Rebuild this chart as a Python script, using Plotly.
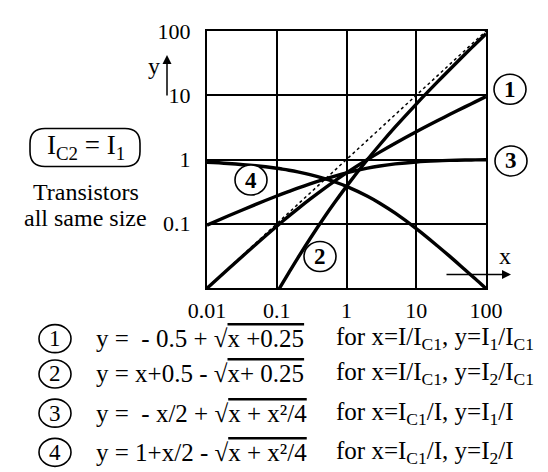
import plotly.graph_objects as go

# ---------------- data ----------------
x_vals = [0.01, 0.02, 0.05, 0.1, 0.12, 0.15, 0.2, 0.3, 0.5, 0.7, 1, 2, 3, 5, 10, 20, 30, 50, 70, 100]
curve1_y = [0.0099, 0.0196, 0.0477, 0.0916, 0.1083, 0.1325, 0.1708, 0.2416, 0.3660, 0.4747,
            0.6180, 1.000, 1.303, 1.791, 2.702, 4.000, 5.000, 6.589, 7.882, 9.512]
curve3_y = [0.0951, 0.1318, 0.2000, 0.2702, 0.2916, 0.3195, 0.3583, 0.4179, 0.5000, 0.5569,
            0.6180, 0.7321, 0.7913, 0.8541, 0.9161, 0.9545, 0.9687, 0.9808, 0.9861, 0.9902]
curve4_y = [0.9049, 0.8682, 0.8000, 0.7298, 0.7084, 0.6805, 0.6417, 0.5821, 0.5000, 0.4431,
            0.3820, 0.2679, 0.2087, 0.1459, 0.0839, 0.0455, 0.0313, 0.0192, 0.0139, 0.0098]
curve2_x = [0.1, 0.12, 0.15, 0.2, 0.3, 0.5, 0.7, 1, 2, 3, 5, 10, 20, 30, 50, 70, 100]
curve2_y = [0.0084, 0.0117, 0.0175, 0.0292, 0.0584, 0.1340, 0.2253, 0.3820, 1.000, 1.697,
            3.209, 7.298, 16.00, 25.00, 43.41, 62.12, 90.49]
diag_x = [0.01, 100]
diag_y = [0.01, 100]

x_ticks = [0.01, 0.1, 1, 10, 100]
x_tick_labels = ["0.01", "0.1", "1", "10", "100"]
y_ticks = [0.1, 1, 10, 100]
y_tick_labels = ["0.1", "1", "10", "100"]


def sub(t):
    return "<sub>%s</sub>" % t


def ov(t):
    return "<span style='text-decoration:overline'>%s</span>" % t


formulas = [
    "y =\u00a0\u00a0- 0.5 + \u221a" + ov("x +0.25"),
    "y = x+0.5 - \u221a" + ov("x+ 0.25"),
    "y =\u00a0\u00a0- x/2 + \u221a" + ov("x + x\u00b2/4"),
    "y = 1+x/2 - \u221a" + ov("x + x\u00b2/4"),
]
conditions = [
    "for x=I/I" + sub("C1") + ", y=I" + sub("1") + "/I" + sub("C1"),
    "for x=I/I" + sub("C1") + ", y=I" + sub("2") + "/I" + sub("C1"),
    "for x=I" + sub("C1") + "/I, y=I" + sub("1") + "/I",
    "for x=I" + sub("C1") + "/I, y=I" + sub("2") + "/I",
]
row_labels = ["1", "2", "3", "4"]

# ---------------- layout helpers ----------------
W_FIG, H_FIG = 548, 472
L, R, T, B = 199, 478, 11, 280
PW, PH = R - L, B - T
FONT = "Liberation Serif, Times New Roman, serif"


def px(x):
    return (x - L) / PW


def py(y):
    return (B - y) / PH


fig = go.Figure()
line_style = dict(color="black", width=3.4)
fig.add_trace(go.Scatter(x=diag_x, y=diag_y, mode="lines",
                         line=dict(color="black", width=1.5, dash="dot")))
fig.add_trace(go.Scatter(x=x_vals, y=curve1_y, mode="lines", line=line_style, line_shape="spline"))
fig.add_trace(go.Scatter(x=curve2_x, y=curve2_y, mode="lines", line=line_style, line_shape="spline"))
fig.add_trace(go.Scatter(x=x_vals, y=curve3_y, mode="lines", line=line_style, line_shape="spline"))
fig.add_trace(go.Scatter(x=x_vals, y=curve4_y, mode="lines", line=line_style, line_shape="spline"))

shapes = []
annotations = []


def circle_label(cx, cy, text, size, bold, rx=15, ry=14):
    shapes.append(dict(type="circle", xref="paper", yref="paper",
                       xsizemode="pixel", ysizemode="pixel",
                       xanchor=px(cx), yanchor=py(cy),
                       x0=-rx, x1=rx, y0=-ry, y1=ry,
                       line=dict(color="black", width=1.6), fillcolor="white", layer="above"))
    annotations.append(dict(xref="paper", yref="paper", x=px(cx), y=py(cy),
                            text=("<b>%s</b>" % text) if bold else text,
                            showarrow=False, xanchor="center", yanchor="middle",
                            font=dict(family=FONT, size=size, color="black")))


# circled labels on the chart
circle_label(502, 72, "1", 23, True, rx=16, ry=15)
circle_label(503, 147, "3", 23, True, rx=16, ry=15)
circle_label(243, 167, "4", 23, True, rx=16, ry=15)
circle_label(312, 247, "2", 23, True, rx=16, ry=15)

# formula rows
row_y = [333, 370, 411, 452]
for lab, f, c, yy in zip(row_labels, formulas, conditions, row_y):
    circle_label(47, yy, lab, 23, False, rx=16, ry=14)
    annotations.append(dict(xref="paper", yref="paper", x=px(86), y=py(yy), text=f,
                            showarrow=False, xanchor="left", yanchor="middle",
                            font=dict(family=FONT, size=25, color="black")))
    annotations.append(dict(xref="paper", yref="paper", x=px(326), y=py(yy), text=c,
                            showarrow=False, xanchor="left", yanchor="middle",
                            font=dict(family=FONT, size=25, color="black")))

# rounded box with I_C2 = I_1
bw, bh, r = 110, 38, 15
path = (f"M {-bw/2+r},{-bh/2} L {bw/2-r},{-bh/2} Q {bw/2},{-bh/2} {bw/2},{-bh/2+r} "
        f"L {bw/2},{bh/2-r} Q {bw/2},{bh/2} {bw/2-r},{bh/2} L {-bw/2+r},{bh/2} "
        f"Q {-bw/2},{bh/2} {-bw/2},{bh/2-r} L {-bw/2},{-bh/2+r} Q {-bw/2},{-bh/2} {-bw/2+r},{-bh/2} Z")
shapes.append(dict(type="path", xref="paper", yref="paper", xsizemode="pixel", ysizemode="pixel",
                   xanchor=px(77), yanchor=py(133), path=path,
                   line=dict(color="black", width=1.6)))
annotations.append(dict(xref="paper", yref="paper", x=px(78), y=py(132),
                        text="I" + sub("C2") + " = I" + sub("1"), showarrow=False,
                        xanchor="center", yanchor="middle",
                        font=dict(family=FONT, size=27, color="black")))
annotations.append(dict(xref="paper", yref="paper", x=px(78), y=py(179), text="Transistors",
                        showarrow=False, xanchor="center", yanchor="middle",
                        font=dict(family=FONT, size=24, color="black")))
annotations.append(dict(xref="paper", yref="paper", x=px(77), y=py(207), text="all same size",
                        showarrow=False, xanchor="center", yanchor="middle",
                        font=dict(family=FONT, size=24, color="black")))

# axis name labels with arrows
annotations.append(dict(xref="paper", yref="paper", x=px(146), y=py(48), text="y",
                        showarrow=False, xanchor="center", yanchor="middle",
                        font=dict(family=FONT, size=24, color="black")))
annotations.append(dict(xref="paper", yref="paper", x=px(159), y=py(36), text="",
                        showarrow=True, ax=0, ay=42, arrowhead=2, arrowsize=1.2,
                        arrowwidth=1.5, arrowcolor="black"))
annotations.append(dict(xref="paper", yref="paper", x=px(497), y=py(246), text="x",
                        showarrow=False, xanchor="center", yanchor="middle",
                        font=dict(family=FONT, size=24, color="black")))
annotations.append(dict(xref="paper", yref="paper", x=px(503), y=py(266), text="",
                        showarrow=True, ax=-66, ay=0, arrowhead=2, arrowsize=1.2,
                        arrowwidth=1.5, arrowcolor="black"))

axis_common = dict(type="log", range=[-2, 2], showgrid=True, gridcolor="black", gridwidth=1.5,
                   showline=True, linecolor="black", linewidth=2, mirror=True, ticks="",
                   zeroline=False, tickfont=dict(family=FONT, size=22, color="black"))

fig.update_layout(
    width=W_FIG, height=H_FIG,
    margin=dict(l=L, r=W_FIG - R, t=T, b=H_FIG - B, pad=0),
    paper_bgcolor="white", plot_bgcolor="white", showlegend=False,
    xaxis=dict(tickvals=x_ticks, ticktext=x_tick_labels, ticklabelstandoff=2, **axis_common),
    yaxis=dict(tickvals=y_ticks, ticktext=y_tick_labels, ticklabelstandoff=10, **axis_common),
    shapes=shapes, annotations=annotations,
)

fig.write_html("out.html")
